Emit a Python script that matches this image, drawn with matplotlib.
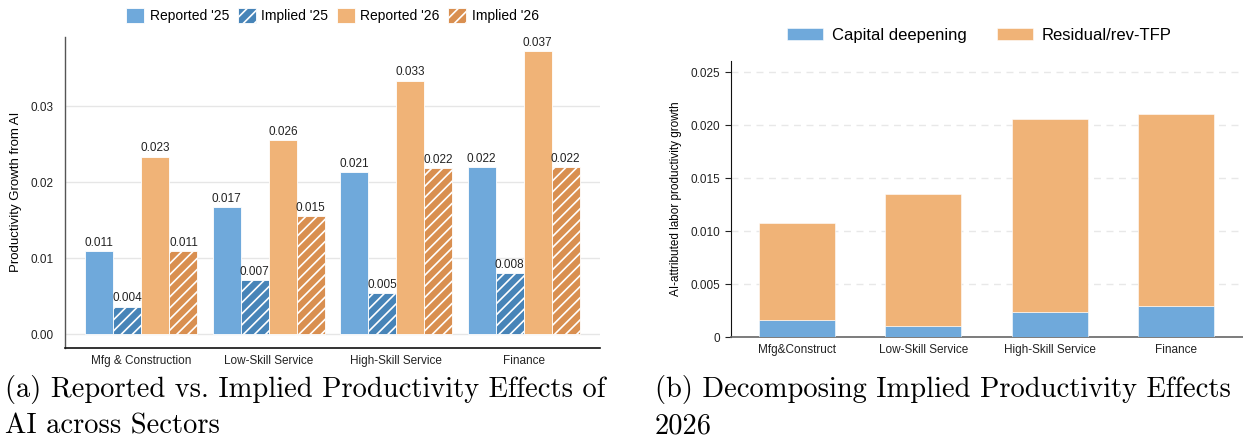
import numpy as np
import matplotlib.pyplot as plt
from matplotlib.patches import Patch

plt.rcParams['font.family'] = ['Liberation Sans', 'DejaVu Sans']
plt.rcParams['hatch.linewidth'] = 1.2

# sector results, left panel
sectors = ['Mfg & Construction', 'Low-Skill Service', 'High-Skill Service', 'Finance']
reported_25 = [0.0109, 0.0167, 0.0213, 0.0220]
implied_25 = [0.0036, 0.0071, 0.0054, 0.0080]
reported_26 = [0.0234, 0.0256, 0.0334, 0.0373]
implied_26 = [0.0109, 0.0155, 0.0219, 0.0220]

# decomposition for 2026, right panel
sectors_short = ['Mfg&Construct', 'Low-Skill Service', 'High-Skill Service', 'Finance']
capital_deepening = [0.00167, 0.00110, 0.00243, 0.00300]
total_implied = [0.01075, 0.01356, 0.02064, 0.02104]
residual_tfp = [t - c for t, c in zip(total_implied, capital_deepening)]

c_rep25 = '#6fa9db'
c_imp25 = '#4784b8'
c_rep26 = '#f0b377'
c_imp26 = '#d98f50'

fig = plt.figure(figsize=(12.43, 4.45), dpi=100)

# ---- (a) grouped bars
ax1 = fig.add_axes([0.0523, 0.2187, 0.4304, 0.6988])
x = np.arange(len(sectors))
w = 0.22
series = [
    (reported_25, c_rep25, None, "Reported '25"),
    (implied_25, c_imp25, '///', "Implied '25"),
    (reported_26, c_rep26, None, "Reported '26"),
    (implied_26, c_imp26, '///', "Implied '26"),
]
handles = []
for i, (vals, col, hatch, lab) in enumerate(series):
    pos = x + (i - 1.5) * w
    bars = ax1.bar(pos, vals, w, color=col, hatch=hatch, edgecolor='white',
                   linewidth=0.6, zorder=3)
    for b, v in zip(bars, vals):
        ax1.text(b.get_x() + b.get_width() / 2, v + 0.0003, f'{v:.3f}',
                 ha='center', va='bottom', fontsize=8.5, color='#222222', zorder=4)
    handles.append(Patch(facecolor=col, hatch=hatch, edgecolor='white',
                         linewidth=0.6, label=lab))

ax1.set_xlim(-0.6, 3.6)
ax1.set_ylim(-0.0018, 0.0392)
ax1.set_yticks([0.0, 0.01, 0.02, 0.03])
ax1.set_yticklabels(['0.00', '0.01', '0.02', '0.03'])
ax1.set_xticks(x)
ax1.set_xticklabels(sectors)
ax1.tick_params(axis='both', length=0, labelsize=8.5, colors='#222222')
ax1.tick_params(axis='x', pad=5)
ax1.tick_params(axis='y', pad=8)
ax1.grid(axis='y', color='#e6e6e6', linewidth=1.0, zorder=0)
ax1.spines['top'].set_visible(False)
ax1.spines['right'].set_visible(False)
ax1.spines['left'].set_color('#555555')
ax1.spines['bottom'].set_color('#111111')
ax1.spines['left'].set_linewidth(1.0)
ax1.spines['bottom'].set_linewidth(1.2)
ax1.set_ylabel('Productivity Growth from AI', fontsize=9.5, labelpad=6)
ax1.legend(handles=handles, loc='lower center', bbox_to_anchor=(0.5, 1.025),
           ncol=4, frameon=False, fontsize=10, handlelength=1.3, handleheight=1.3,
           handletextpad=0.4, columnspacing=0.6, borderaxespad=0)

# ---- (b) stacked decomposition
ax2 = fig.add_axes([0.5878, 0.242, 0.4122, 0.6216])
x2 = np.arange(len(sectors_short))
ax2.bar(x2, capital_deepening, 0.6, color=c_rep25, edgecolor='white',
        linewidth=0.4, label='Capital deepening', zorder=3)
ax2.bar(x2, residual_tfp, 0.6, bottom=capital_deepening, color=c_rep26,
        edgecolor='white', linewidth=0.4, label='Residual/rev-TFP', zorder=3)
ax2.set_xlim(-0.525, 3.53)
ax2.set_ylim(0, 0.0261)
ax2.set_yticks([0, 0.005, 0.010, 0.015, 0.020, 0.025])
ax2.set_yticklabels(['0', '0.005', '0.010', '0.015', '0.020', '0.025'])
ax2.set_xticks(x2)
ax2.set_xticklabels(sectors_short)
ax2.tick_params(axis='y', length=4, width=0.8, labelsize=8.5, colors='#222222')
ax2.tick_params(axis='x', length=0, labelsize=8.5, colors='#222222', pad=5)
ax2.grid(axis='y', color='#e8e8e8', linestyle=(0, (5, 4)), linewidth=1.0, zorder=0)
ax2.spines['top'].set_visible(False)
ax2.spines['right'].set_visible(False)
ax2.spines['left'].set_color('#111111')
ax2.spines['bottom'].set_color('#666666')
ax2.spines['bottom'].set_linewidth(1.2)
ax2.set_ylabel('AI-attributed labor productivity growth', fontsize=8.5, labelpad=6)
ax2.legend(loc='lower center', bbox_to_anchor=(0.485, 1.04), ncol=2, frameon=False,
           fontsize=12, handlelength=2.2, handleheight=0.7, handletextpad=0.5,
           columnspacing=1.8, borderaxespad=0)

# ---- captions
cap = dict(fontsize=20.5, family='cmr10', va='baseline', ha='left')
fig.text(0.004, 1 - 397 / 445, '(a) Reported vs. Implied Productivity Effects of', **cap)
fig.text(0.004, 1 - 434 / 445, 'AI across Sectors', **cap)
fig.text(0.527, 1 - 397 / 445, '(b) Decomposing Implied Productivity Effects', **cap)
fig.text(0.527, 1 - 434 / 445, '2026', **cap)

fig.savefig('out.png', dpi=100)
